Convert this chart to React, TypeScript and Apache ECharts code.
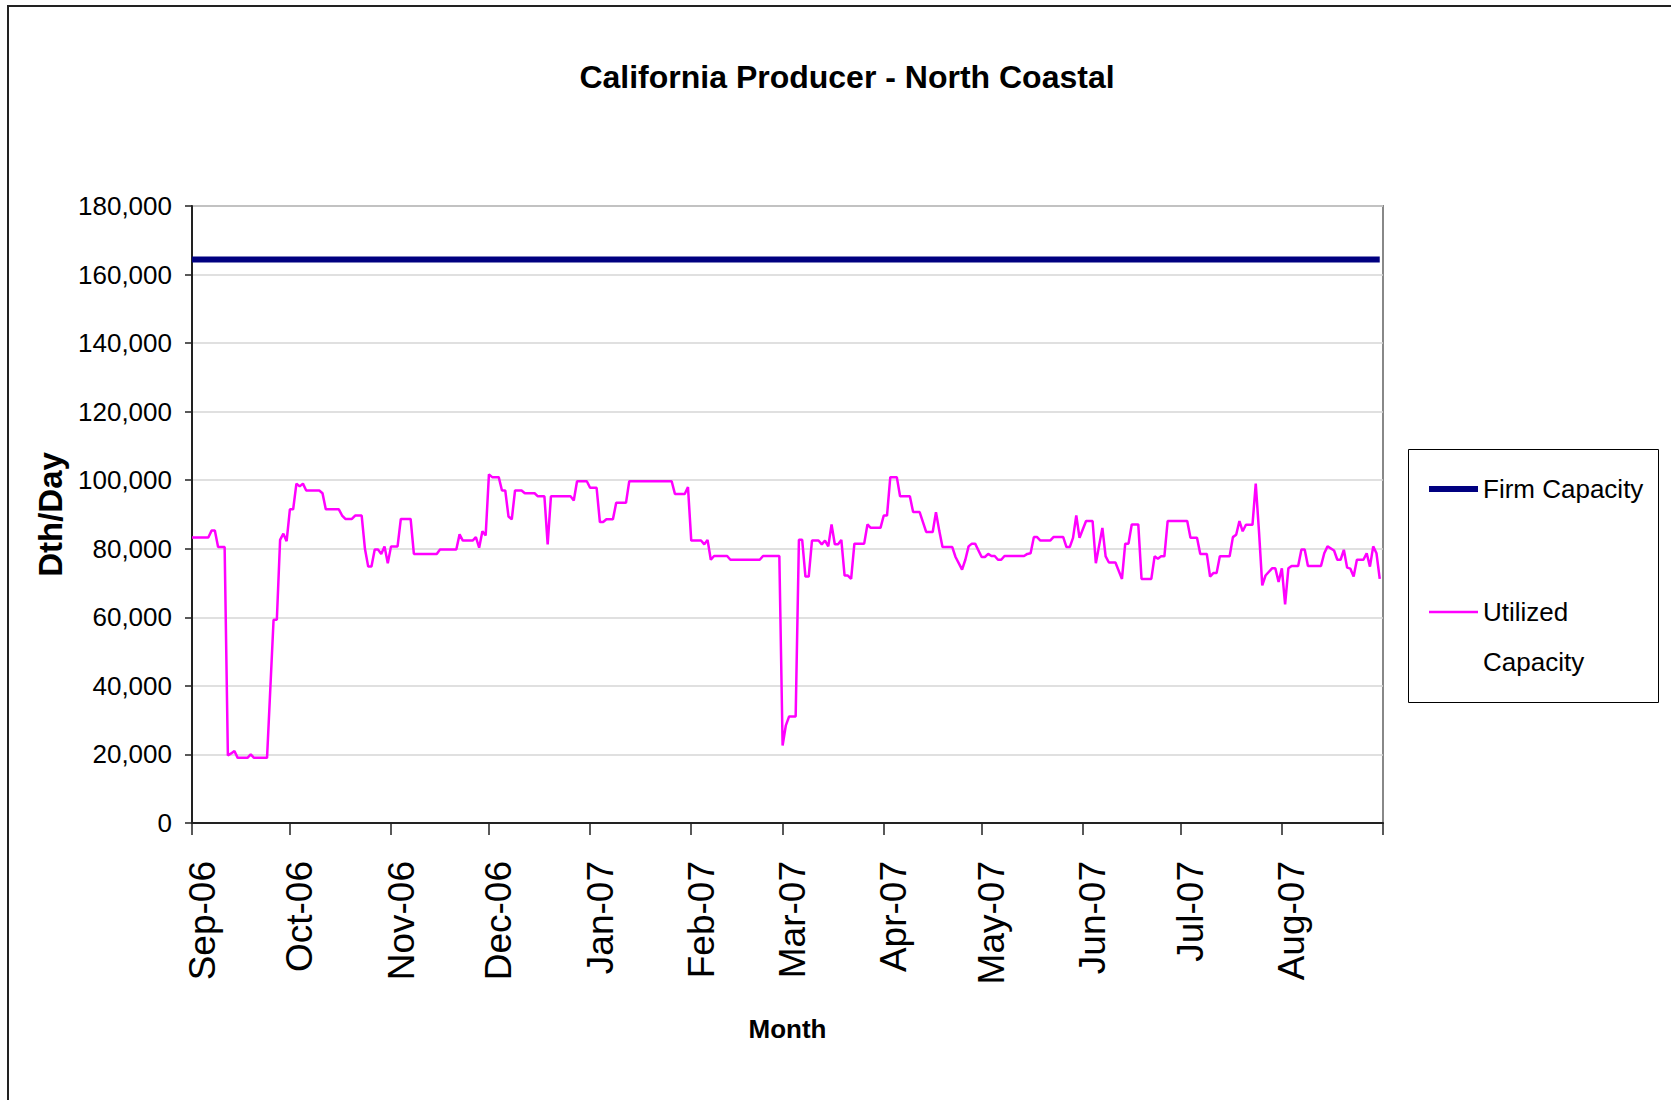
import React, { useEffect, useRef } from "react";
import * as echarts from "echarts";

const TITLE = "California Producer - North Coastal";
const Y_NAME = "Dth/Day";
const X_NAME = "Month";
const FIRM_NAME = "Firm Capacity";
const UTIL_NAME = "Utilized Capacity";

// month starts used for ticks, and their labels
const monthStarts = [
  "2006-09-01", "2006-10-01", "2006-11-01", "2006-12-01", "2007-01-01", "2007-02-01",
  "2007-03-01", "2007-04-01", "2007-05-01", "2007-06-01", "2007-07-01", "2007-08-01", "2007-09-01",
];
const monthLabels = [
  "Sep-06", "Oct-06", "Nov-06", "Dec-06", "Jan-07", "Feb-07",
  "Mar-07", "Apr-07", "May-07", "Jun-07", "Jul-07", "Aug-07",
];

const yTicks = [0, 20000, 40000, 60000, 80000, 100000, 120000, 140000, 160000, 180000];

// Firm capacity (flat)
const firmDates = ["2006-09-01", "2007-08-31"];
const firmValues = [164400, 164400];

// Utilized capacity, Sep-Nov 2006
const utilSepNov: [string, number][] = [
  ["2006-09-01", 83300], ["2006-09-06", 83300], ["2006-09-07", 85300], ["2006-09-08", 85300],
  ["2006-09-09", 80500], ["2006-09-11", 80500], ["2006-09-12", 19700], ["2006-09-13", 20300],
  ["2006-09-14", 21000], ["2006-09-15", 19000], ["2006-09-18", 19000], ["2006-09-19", 20000],
  ["2006-09-20", 19000], ["2006-09-24", 19000], ["2006-09-26", 59300], ["2006-09-27", 59300],
  ["2006-09-28", 82600], ["2006-09-29", 84400], ["2006-09-30", 82200], ["2006-10-01", 91500],
  ["2006-10-02", 91500], ["2006-10-03", 99000], ["2006-10-04", 98200], ["2006-10-05", 99000],
  ["2006-10-06", 97000], ["2006-10-10", 97000], ["2006-10-11", 96200], ["2006-10-12", 91500],
  ["2006-10-16", 91500], ["2006-10-17", 89700], ["2006-10-18", 88700], ["2006-10-20", 88700],
  ["2006-10-21", 89700], ["2006-10-23", 89700], ["2006-10-24", 80000], ["2006-10-25", 74800],
  ["2006-10-26", 74800], ["2006-10-27", 79800], ["2006-10-28", 79800], ["2006-10-29", 78500],
  ["2006-10-30", 80700], ["2006-10-31", 75800], ["2006-11-01", 80700], ["2006-11-03", 80700],
  ["2006-11-04", 88700], ["2006-11-07", 88700], ["2006-11-08", 78500], ["2006-11-15", 78500],
  ["2006-11-16", 79800], ["2006-11-21", 79800], ["2006-11-22", 84200], ["2006-11-23", 82400],
  ["2006-11-26", 82400], ["2006-11-27", 83400], ["2006-11-28", 80300], ["2006-11-29", 85100],
  ["2006-11-30", 83900],
];

// Utilized capacity, Dec 2006 - Feb 2007
const utilDecFeb: [string, number][] = [
  ["2006-12-01", 101700], ["2006-12-02", 100900], ["2006-12-04", 100900], ["2006-12-05", 97000],
  ["2006-12-06", 97000], ["2006-12-07", 89400], ["2006-12-08", 88600], ["2006-12-09", 97000],
  ["2006-12-11", 97000], ["2006-12-12", 96200], ["2006-12-15", 96200], ["2006-12-16", 95300],
  ["2006-12-18", 95300], ["2006-12-19", 81300], ["2006-12-20", 95300], ["2006-12-26", 95300],
  ["2006-12-27", 94100], ["2006-12-28", 99700], ["2006-12-31", 99700], ["2007-01-01", 97800],
  ["2007-01-03", 97800], ["2007-01-04", 87800], ["2007-01-05", 87800], ["2007-01-06", 88600],
  ["2007-01-08", 88600], ["2007-01-09", 93400], ["2007-01-12", 93400], ["2007-01-13", 99700],
  ["2007-01-26", 99700], ["2007-01-27", 96000], ["2007-01-30", 96000], ["2007-01-31", 98000],
  ["2007-02-01", 82400], ["2007-02-04", 82400], ["2007-02-05", 81300], ["2007-02-06", 82600],
  ["2007-02-07", 76800], ["2007-02-08", 77900], ["2007-02-12", 77900], ["2007-02-13", 76800],
  ["2007-02-22", 76800], ["2007-02-23", 77900], ["2007-02-28", 77900],
];

// Utilized capacity, Mar-May 2007
const utilMarMay: [string, number][] = [
  ["2007-03-01", 22600], ["2007-03-02", 28500], ["2007-03-03", 31100], ["2007-03-05", 31100],
  ["2007-03-06", 82600], ["2007-03-07", 82600], ["2007-03-08", 71900], ["2007-03-09", 71900],
  ["2007-03-10", 82400], ["2007-03-12", 82400], ["2007-03-13", 81300], ["2007-03-14", 82400],
  ["2007-03-15", 80700], ["2007-03-16", 87100], ["2007-03-17", 81300], ["2007-03-18", 81300],
  ["2007-03-19", 82600], ["2007-03-20", 72200], ["2007-03-21", 72200], ["2007-03-22", 71200],
  ["2007-03-23", 81500], ["2007-03-26", 81500], ["2007-03-27", 87100], ["2007-03-28", 86100],
  ["2007-03-31", 86100], ["2007-04-01", 89700], ["2007-04-02", 89700], ["2007-04-03", 100900],
  ["2007-04-05", 100900], ["2007-04-06", 95300], ["2007-04-09", 95300], ["2007-04-10", 90700],
  ["2007-04-12", 90700], ["2007-04-14", 84900], ["2007-04-16", 84900], ["2007-04-17", 90700],
  ["2007-04-18", 85300], ["2007-04-19", 80500], ["2007-04-22", 80500], ["2007-04-23", 77600],
  ["2007-04-25", 73900], ["2007-04-26", 76800], ["2007-04-27", 80700], ["2007-04-28", 81500],
  ["2007-04-29", 81500], ["2007-05-01", 77600], ["2007-05-02", 77600], ["2007-05-03", 78500],
  ["2007-05-04", 77900], ["2007-05-05", 77900], ["2007-05-06", 76800], ["2007-05-07", 76800],
  ["2007-05-08", 77900], ["2007-05-14", 77900], ["2007-05-15", 78500], ["2007-05-16", 78700],
  ["2007-05-17", 83400], ["2007-05-18", 83400], ["2007-05-19", 82400], ["2007-05-22", 82400],
  ["2007-05-23", 83400], ["2007-05-26", 83400], ["2007-05-27", 80500], ["2007-05-28", 80500],
  ["2007-05-29", 83200], ["2007-05-30", 89700], ["2007-05-31", 83200],
];

// Utilized capacity, Jun-Aug 2007
const utilJunAug: [string, number][] = [
  ["2007-06-02", 88100], ["2007-06-04", 88100], ["2007-06-05", 75800], ["2007-06-07", 86100],
  ["2007-06-08", 77800], ["2007-06-09", 76000], ["2007-06-11", 76000], ["2007-06-13", 71200],
  ["2007-06-14", 81500], ["2007-06-15", 81500], ["2007-06-16", 87100], ["2007-06-18", 87100],
  ["2007-06-19", 71200], ["2007-06-22", 71200], ["2007-06-23", 77800], ["2007-06-24", 77100],
  ["2007-06-25", 77800], ["2007-06-26", 77800], ["2007-06-27", 88100], ["2007-07-03", 88100],
  ["2007-07-04", 83200], ["2007-07-06", 83200], ["2007-07-07", 78500], ["2007-07-09", 78500],
  ["2007-07-10", 71900], ["2007-07-11", 72900], ["2007-07-12", 72900], ["2007-07-13", 77800],
  ["2007-07-16", 77800], ["2007-07-17", 83400], ["2007-07-18", 84100], ["2007-07-19", 88100],
  ["2007-07-20", 85100], ["2007-07-21", 87000], ["2007-07-23", 87000], ["2007-07-24", 99000],
  ["2007-07-25", 85000], ["2007-07-26", 69300], ["2007-07-27", 72200], ["2007-07-29", 74300],
  ["2007-07-30", 74300], ["2007-07-31", 70300], ["2007-08-01", 74300], ["2007-08-02", 63800],
  ["2007-08-03", 74300], ["2007-08-04", 75000], ["2007-08-06", 75000], ["2007-08-07", 79800],
  ["2007-08-08", 79800], ["2007-08-09", 75000], ["2007-08-13", 75000], ["2007-08-14", 78700],
  ["2007-08-15", 80700], ["2007-08-17", 79500], ["2007-08-18", 76800], ["2007-08-19", 76800],
  ["2007-08-20", 79700], ["2007-08-21", 74500], ["2007-08-22", 74200], ["2007-08-23", 71900],
  ["2007-08-24", 76800], ["2007-08-26", 76800], ["2007-08-27", 78700], ["2007-08-28", 74800],
  ["2007-08-29", 80700], ["2007-08-30", 78700], ["2007-08-31", 71200],
];

const FONT = "'Liberation Sans', Arial, Helvetica, sans-serif";

const DAY_MS = 86400000;

// days elapsed since the first month start
function dayIndex(s: string): number {
  const [y, m, d] = s.split("-").map(Number);
  const [y0, m0, d0] = monthStarts[0].split("-").map(Number);
  return Math.round((Date.UTC(y, m - 1, d) - Date.UTC(y0, m0 - 1, d0)) / DAY_MS);
}

function fmtThousands(v: number): string {
  return String(Math.round(v)).replace(/\B(?=(\d{3})+(?!\d))/g, ",");
}

export default function App() {
  const ref = useRef<HTMLDivElement>(null);

  useEffect(() => {
    if (!ref.current) return;
    const chart = echarts.init(ref.current, null, { renderer: "svg" });

    const tickDays = monthStarts.map(dayIndex);
    const labelDays = tickDays.slice(0, monthLabels.length);
    const utilData = [...utilSepNov, ...utilDecFeb, ...utilMarMay, ...utilJunAug].map(
      ([d, v]) => [dayIndex(d), v]
    );
    const firmData = firmDates.map((d, i) => [dayIndex(d), firmValues[i]]);

    chart.setOption({
      animation: false,
      backgroundColor: "#ffffff",
      title: {
        text: TITLE,
        left: 842,
        top: 56,
        textAlign: "center",
        textStyle: {
          fontFamily: FONT,
          fontSize: 32,
          fontWeight: "bold",
          color: "#000000",
        },
      },
      graphic: [
        {
          type: "rect",
          shape: { x: 8, y: 6, width: 1720, height: 1200 },
          style: { fill: "none", stroke: "#222222", lineWidth: 2 },
          silent: true,
        },
        {
          type: "rect",
          shape: { x: 1408.5, y: 449.5, width: 250, height: 253 },
          style: { fill: "none", stroke: "#000000", lineWidth: 1 },
          silent: true,
        },
      ],
      legend: {
        orient: "vertical",
        left: 1426,
        top: 464,
        padding: 0,
        itemGap: 23,
        itemWidth: 49,
        itemHeight: 14,
        data: [
          { name: FIRM_NAME, lineStyle: { width: 6, color: "#000080" } },
          { name: UTIL_NAME, lineStyle: { width: 2.5, color: "#ff00ff" } },
        ],
        itemStyle: { opacity: 0 },
        formatter: (name: string) => (name === UTIL_NAME ? " \nUtilized\nCapacity" : name),
        textStyle: {
          fontFamily: FONT,
          fontSize: 26,
          lineHeight: 50,
          color: "#000000",
        },
      },
      grid: {
        left: 192,
        top: 206,
        right: 288,
        bottom: 277,
        show: true,
        borderColor: "#888888",
        borderWidth: 2,
        backgroundColor: "transparent",
      },
      xAxis: {
        type: "value",
        min: tickDays[0],
        max: tickDays[tickDays.length - 1],
        name: X_NAME,
        nameLocation: "middle",
        nameGap: 193,
        nameTextStyle: {
          fontFamily: FONT,
          fontSize: 26,
          fontWeight: "bold",
          color: "#000000",
        },
        axisLine: { show: true, lineStyle: { color: "#222222", width: 2 } },
        axisTick: {
          show: true,
          length: 12,
          customValues: tickDays,
          lineStyle: { color: "#222222", width: 1.5 },
        },
        axisLabel: {
          customValues: labelDays,
          rotate: 90,
          margin: 38,
          fontFamily: FONT,
          fontSize: 37,
          color: "#000000",
          verticalAlign: "top",
          lineHeight: 20,
          formatter: (v: number) => {
            const i = labelDays.indexOf(Math.round(v));
            return i >= 0 ? monthLabels[i] : "";
          },
        },
        splitLine: { show: false },
      },
      yAxis: {
        type: "value",
        min: yTicks[0],
        max: yTicks[yTicks.length - 1],
        interval: yTicks[1] - yTicks[0],
        name: Y_NAME,
        nameLocation: "middle",
        nameGap: 80,
        nameRotate: 90,
        nameTextStyle: {
          fontFamily: FONT,
          fontSize: 33,
          fontWeight: "bold",
          color: "#000000",
        },
        axisLine: { show: true, lineStyle: { color: "#222222", width: 2 } },
        axisTick: { show: true, length: 7, lineStyle: { color: "#222222", width: 1.5 } },
        axisLabel: {
          margin: 20,
          fontFamily: FONT,
          fontSize: 26,
          color: "#000000",
          formatter: (v: number) => fmtThousands(v),
        },
        splitLine: { show: true, lineStyle: { color: "#d6d6d6", width: 1.5 } },
      },
      series: [
        {
          name: FIRM_NAME,
          type: "line",
          data: firmData,
          symbol: "none",
          lineStyle: { color: "#000080", width: 6 },
          itemStyle: { color: "#000080" },
          z: 3,
        },
        {
          name: UTIL_NAME,
          type: "line",
          data: utilData,
          symbol: "none",
          lineStyle: { color: "#ff00ff", width: 2.5 },
          itemStyle: { color: "#ff00ff" },
          z: 4,
        },
      ],
    });

    return () => chart.dispose();
  }, []);

  return (
    <div
      ref={ref}
      style={{ position: "absolute", left: 0, top: 0, width: 1671, height: 1100, background: "#fff" }}
    />
  );
}
